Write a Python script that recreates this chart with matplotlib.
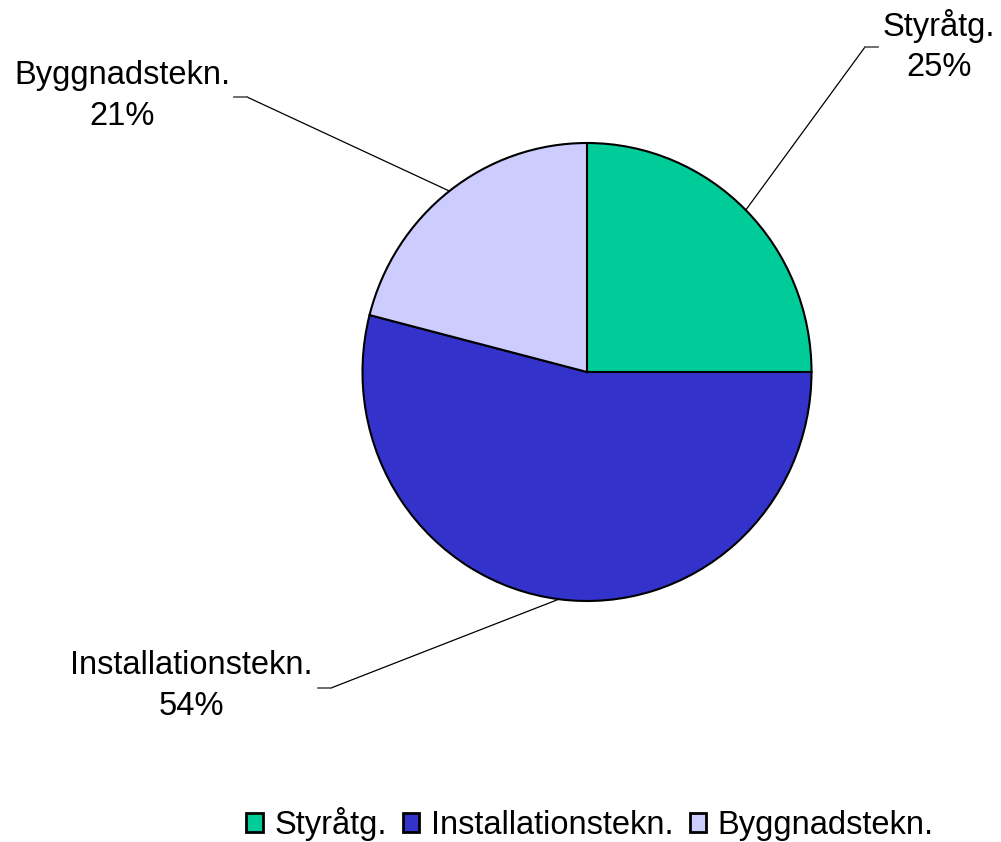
import matplotlib
matplotlib.use("Agg")
import matplotlib.pyplot as plt
import numpy as np

plt.rcParams['font.family'] = ['Liberation Sans', 'DejaVu Sans']

# data
labels = ["Styråtg.", "Installationstekn.", "Byggnadstekn."]
shares = [25, 54, 21]
colors = ["#00CC99", "#3333CC", "#CCCCFF"]

# label text centres and leader elbows (pixels, origin top-left)
label_pos = [(939, 46), (191, 686), (122, 96)]
elbows = [(865, 47), (331, 688), (247, 97)]
stub_dir = [1, -1, -1]

W, H = 1001, 842
fig = plt.figure(figsize=(W / 100, H / 100), dpi=100)

cx, cy, rx, ry = 587, 372, 224.5, 229
ax = fig.add_axes([(cx - rx) / W, 1 - (cy + ry) / H, 2 * rx / W, 2 * ry / H])
wedges, _ = ax.pie(shares, colors=colors, startangle=90, counterclock=False,
                   wedgeprops=dict(edgecolor="black", linewidth=1.5))
ax.set_xlim(-1, 1)
ax.set_ylim(-1, 1)
ax.set_aspect("auto")
ax.axis("off")

total = sum(shares)
for w, lab, val, lp, el, sd in zip(wedges, labels, shares, label_pos, elbows, stub_dir):
    mid = np.deg2rad((w.theta1 + w.theta2) / 2)
    edge = (np.cos(mid), np.sin(mid))
    ax.annotate("", xy=edge, xycoords="data",
                xytext=(el[0], H - el[1]), textcoords="figure pixels",
                arrowprops=dict(arrowstyle="-", lw=0.9, color="black",
                                shrinkA=0, shrinkB=0))
    fig.add_artist(plt.Line2D([el[0] / W, (el[0] + 13 * sd) / W],
                              [1 - el[1] / H, 1 - el[1] / H],
                              color="#555555", lw=1.2, transform=fig.transFigure))
    fig.text(lp[0] / W, 1 - lp[1] / H, f"{lab}\n{round(100 * val / total)}%",
             ha="center", va="center", fontsize=23.5, linespacing=1.38)

leg = fig.legend(wedges, labels, loc="center", bbox_to_anchor=(590 / W, 1 - 824 / H),
                 ncol=3, frameon=False, fontsize=23.5, handlelength=0.5, handleheight=0.5,
                 handletextpad=0.35, columnspacing=0.5)
for h in leg.legend_handles:
    h.set_linewidth(2)

fig.savefig("out.png", dpi=100)
